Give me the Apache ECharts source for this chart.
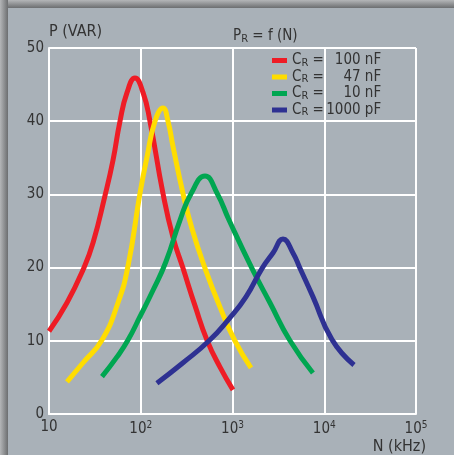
<!DOCTYPE html>
<html>
<head>
<meta charset="utf-8">
<title>P_R = f (N)</title>
<script src="https://cdn.jsdelivr.net/npm/echarts@6/dist/echarts.min.js"></script>
<style>
  html, body { margin: 0; padding: 0; background: #a9b1b8; }
  #chart { width: 454px; height: 455px; }
</style>
</head>
<body>
<div id="chart"></div>
<script>
// capacitance labels (legend)
var capLabels = ['100 nF', '47 nF', '10 nF', '1000 pF'];
var colors = ['#ee1c25', '#ffdd00', '#00a651', '#2e3192'];

// N (kHz) / P (VAR)
var redN = [10, 15.7, 23.5, 30.2, 40.7, 49.9, 59.4, 70.8, 86.5, 106, 126, 175, 224, 289, 390, 527, 731, 1012];
var redP = [11.3, 15.2, 19.7, 23.4, 29.8, 34.7, 40.0, 43.9, 45.9, 43.9, 40.0, 30.1, 24.2, 19.9, 14.8, 10.1, 6.4, 3.3];

var yellowN = [15.7, 23.5, 37.8, 56.5, 72.6, 98, 117, 143, 175, 198, 225, 289, 362, 502, 731, 1064, 1592];
var yellowP = [4.4, 7.0, 10.1, 15.2, 20.2, 30.1, 35.1, 40.0, 41.8, 40.0, 36.5, 30.1, 25.3, 19.9, 14.6, 10.0, 6.3];

var greenN = [37.8, 55.1, 72.6, 98, 136, 188, 268, 353, 502, 677, 916, 1630, 2560, 4240, 7530];
var greenP = [5.1, 7.8, 10.1, 13.3, 16.9, 20.8, 26.5, 30.1, 32.5, 30.2, 26.5, 19.9, 15.2, 10.0, 5.6];

var blueN = [150, 289, 555, 916, 1403, 2100, 2760, 3550, 4560, 5440, 7540, 12100, 21100];
var blueP = [4.2, 7.0, 10.0, 13.0, 16.0, 19.9, 22.0, 23.9, 22.0, 19.9, 16.0, 10.2, 6.7];

var xTicks = [10, 100, 1000, 10000, 100000];
var yTicks = [0, 10, 20, 30, 40, 50];

var font = "'Liberation Sans Narrow', 'DejaVu Sans Condensed', Roboto, sans-serif";
var txt = '#333';

function pairs(xs, ys) {
    return xs.map(function (x, i) { return [x, ys[i]]; });
}

var allData = [pairs(redN, redP), pairs(yellowN, yellowP), pairs(greenN, greenP), pairs(blueN, blueP)];

var chart = echarts.init(document.getElementById('chart'));
chart.setOption({
    backgroundColor: '#a9b1b8',
    textStyle: { fontFamily: font, color: txt },
    title: {
        text: '{a|P}{s|R}{a| = f (N)}',
        left: 228,
        top: 22,
        textStyle: {
            fontWeight: 'normal',
            rich: {
                a: { fontSize: 15, color: txt, fontFamily: font, fontWeight: 'normal' },
                s: { fontSize: 11, color: txt, fontFamily: font, fontWeight: 'normal', padding: [7, 0, 0, 0] }
            }
        }
    },
    graphic: [
        {
            type: 'rect', left: 0, top: 0, z: 100,
            shape: { width: 454, height: 8 },
            style: { fill: new echarts.graphic.LinearGradient(0, 0, 0, 1, [
                { offset: 0, color: '#b4b6b8' }, { offset: 1, color: '#6c6e70' }]) }
        },
        {
            type: 'rect', left: 0, top: 0, z: 100,
            shape: { width: 8, height: 455 },
            style: { fill: new echarts.graphic.LinearGradient(0, 0, 1, 0, [
                { offset: 0, color: '#b4b6b8' }, { offset: 1, color: '#6c6e70' }]) }
        }
    ],
    legend: {
        orient: 'vertical',
        left: 267,
        top: 48,
        itemWidth: 15,
        itemHeight: 5,
        itemGap: 1,
        icon: 'rect',
        data: capLabels,
        formatter: function (name) {
            return '{c|C}{r|R}{e| = }{v|' + name + '}';
        },
        textStyle: {
            rich: {
                c: { fontSize: 15, color: txt, fontFamily: font },
                r: { fontSize: 11, color: txt, fontFamily: font, padding: [5, 0, 0, 0] },
                e: { fontSize: 15, color: txt, fontFamily: font },
                v: { fontSize: 15, color: txt, fontFamily: font, width: 53, align: 'right' }
            }
        }
    },
    grid: { left: 49, right: 38, top: 48, bottom: 41 },
    xAxis: {
        type: 'log',
        logBase: 10,
        min: 10,
        max: 100000,
        name: 'N (kHz)',
        nameLocation: 'end',
        nameGap: 10,
        nameTextStyle: { fontSize: 16, color: txt, align: 'right', verticalAlign: 'top', padding: [25, 0, 0, 0] },
        axisLine: { lineStyle: { color: '#ffffff', width: 2 } },
        axisTick: { show: false },
        minorTick: { show: false },
        splitLine: { show: true, lineStyle: { color: '#ffffff', width: 2 } },
        axisLabel: {
            margin: 6,
            fontSize: 15,
            color: txt,
            formatter: function (v) {
                var e = Math.round(Math.log10(v));
                return e === 1 ? '10' : '10{s|' + e + '}';
            },
            rich: {
                s: { fontSize: 10, color: txt, padding: [0, 0, 9, 0] }
            }
        }
    },
    yAxis: {
        type: 'value',
        min: 0,
        max: 50,
        interval: 10,
        name: 'P (VAR)',
        nameLocation: 'end',
        nameGap: 8,
        nameTextStyle: { fontSize: 16, color: txt, align: 'left' },
        axisLine: { show: true, lineStyle: { color: '#ffffff', width: 2 } },
        axisTick: { show: false },
        splitLine: { show: true, lineStyle: { color: '#ffffff', width: 2 } },
        axisLabel: { fontSize: 15, color: txt, margin: 5 }
    },
    series: capLabels.map(function (name, i) {
        return {
            name: name,
            type: 'line',
            data: allData[i],
            smooth: 0.5,
            showSymbol: false,
            symbol: 'none',
            color: colors[i],
            lineStyle: { width: 5, color: colors[i] },
            z: 3 + i
        };
    }),
    animation: false
});
</script>
</body>
</html>
